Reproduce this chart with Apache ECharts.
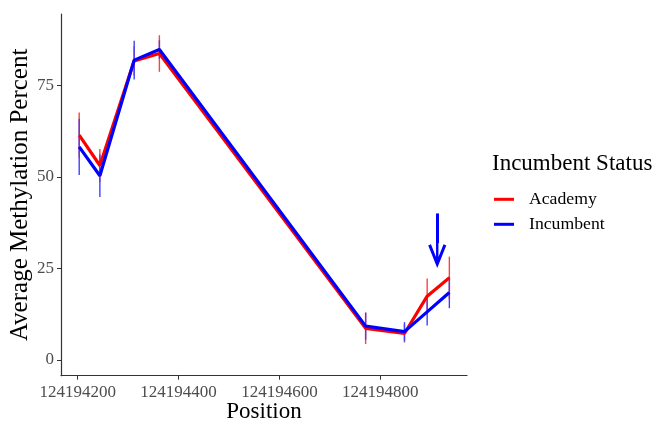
<!DOCTYPE html>
<html>
<head>
<meta charset="utf-8">
<script src="https://cdn.jsdelivr.net/npm/echarts@6/dist/echarts.min.js"></script>
<style>
html,body{margin:0;padding:0;background:#fff;}
#chart{width:656px;height:422px;}
</style>
</head>
<body>
<div id="chart"></div>
<script>
// ---- data ----
var positions = [124194203, 124194244, 124194312, 124194362, 124194771, 124194848, 124194893, 124194937];
var academyMean = [61.4, 53.1, 81.7, 83.7, 8.6, 7.2, 17.4, 22.4];
var academyErr  = [6.2, 4.5, 4.0, 5.0, 4.3, 2.5, 4.8, 5.8];
var incumbentMean = [58.2, 50.3, 81.9, 84.8, 9.2, 7.7, 13.1, 18.4];
var incumbentErr  = [7.7, 5.8, 5.3, 2.5, 3.7, 2.6, 3.7, 4.3];
var xTicks = [124194200, 124194400, 124194600, 124194800];
var yTicks = [0, 25, 50, 75];
var arrowX = 124194913;
var arrowFrom = 40.0;
var arrowTo = 31.9;

var RED = '#FF0000', BLUE = '#0000FF';
var FONT = '"Liberation Serif", "DejaVu Serif", serif';

function pairs(xs, ys) { return xs.map(function (x, i) { return [x, ys[i]]; }); }
function errData(xs, m, e) { return xs.map(function (x, i) { return [x, m[i] - e[i], m[i] + e[i]]; }); }

function errSeries(name, color, data, z) {
  return {
    name: name, type: 'custom', data: data, z: z,
    encode: { x: 0, y: [1, 2] },
    renderItem: function (params, api) {
      var lo = api.coord([api.value(0), api.value(1)]);
      var hi = api.coord([api.value(0), api.value(2)]);
      return {
        type: 'line',
        shape: { x1: lo[0], y1: lo[1], x2: hi[0], y2: hi[1] },
        style: { stroke: color, lineWidth: 1.4 }
      };
    }
  };
}

var chart = echarts.init(document.getElementById('chart'), null, { renderer: 'canvas' });
var axisCol = '#333333', labCol = '#4D4D4D';

chart.setOption({
  backgroundColor: '#ffffff',
  animation: false,
  grid: { left: 61, top: 14, right: 189, bottom: 46.3, containLabel: false, outerBoundsMode: 'none' },
  title: {
    text: 'Incumbent Status', left: 492, top: 152, padding: 0,
    textStyle: { fontFamily: FONT, fontSize: 23, fontWeight: 'normal', color: '#000' }
  },
  legend: {
    data: ['Academy', 'Incumbent'], orient: 'vertical', left: 494, top: 189.3, padding: 0,
    icon: 'rect', itemWidth: 20, itemHeight: 3, itemGap: 5,
    textStyle: { fontFamily: FONT, fontSize: 17.7, color: '#000', lineHeight: 20, padding: [0, 0, 0, 10] }
  },
  xAxis: {
    type: 'value', min: 124194166.9, max: 124194972, scale: true,
    name: 'Position', nameLocation: 'middle', nameGap: 25, nameMoveOverlap: false,
    nameTextStyle: { fontFamily: FONT, fontSize: 23, color: '#000' },
    axisLine: { show: true, onZero: false, lineStyle: { color: axisCol, width: 1.2 } },
    axisTick: { show: true, length: 4, customValues: xTicks, lineStyle: { color: axisCol } },
    axisLabel: { customValues: xTicks, margin: 8, fontFamily: FONT, fontSize: 17, color: labCol,
                 formatter: function (v) { return String(v); } },
    splitLine: { show: false }
  },
  yAxis: {
    type: 'value', min: -4.34, max: 94.5,
    name: 'Average Methylation Percent', nameLocation: 'middle', nameGap: 28, nameMoveOverlap: false,
    nameTextStyle: { fontFamily: FONT, fontSize: 25, color: '#000' },
    axisLine: { show: true, onZero: false, lineStyle: { color: axisCol, width: 1.2 } },
    axisTick: { show: true, length: 4, customValues: yTicks, lineStyle: { color: axisCol } },
    axisLabel: { customValues: yTicks, margin: 7, fontFamily: FONT, fontSize: 17, color: labCol },
    splitLine: { show: false }
  },
  series: [
    errSeries('Academy SE', '#FF4040', errData(positions, academyMean, academyErr), 2),
    errSeries('Incumbent SE', '#4040FF', errData(positions, incumbentMean, incumbentErr), 2.5),
    {
      name: 'Academy', type: 'line', data: pairs(positions, academyMean), z: 3,
      showSymbol: false, symbol: 'none', color: RED, lineStyle: { color: RED, width: 3.2 }
    },
    {
      name: 'Incumbent', type: 'line', data: pairs(positions, incumbentMean), z: 4,
      showSymbol: false, symbol: 'none', color: BLUE, lineStyle: { color: BLUE, width: 3.2 },
      markLine: {
        silent: true, animation: false,
        symbol: ['none', 'path://M9 0 L18 22.5 L15.3 23.8 L10.2 11 L10.2 50 L7.8 50 L7.8 11 L2.7 23.8 L0 22.5 Z'],
        symbolSize: [18, 50],
        label: { show: false },
        lineStyle: { color: BLUE, width: 3, type: 'solid' },
        itemStyle: { color: BLUE },
        data: [[{ coord: [arrowX, arrowFrom] }, { coord: [arrowX, arrowTo] }]]
      }
    }
  ]
});
</script>
</body>
</html>
